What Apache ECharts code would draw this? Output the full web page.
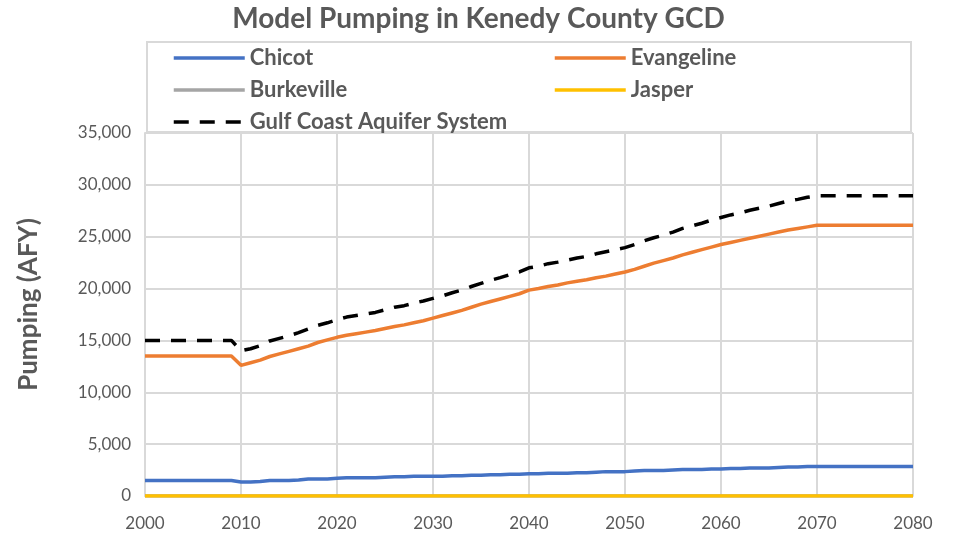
<!DOCTYPE html>
<html>
<head>
<meta charset="utf-8">
<script src="https://cdn.jsdelivr.net/npm/echarts@6/dist/echarts.min.js"></script>
<style>
  html, body { margin: 0; padding: 0; background: #fff; }
  #chart { width: 957px; height: 541px; }
</style>
</head>
<body>
<div id="chart"></div>
<script>
// years 2000 .. 2080
const years = [
  2000, 2001, 2002, 2003, 2004, 2005, 2006, 2007, 2008, 2009,
  2010, 2011, 2012, 2013, 2014, 2015, 2016, 2017, 2018, 2019,
  2020, 2021, 2022, 2023, 2024, 2025, 2026, 2027, 2028, 2029,
  2030, 2031, 2032, 2033, 2034, 2035, 2036, 2037, 2038, 2039,
  2040, 2041, 2042, 2043, 2044, 2045, 2046, 2047, 2048, 2049,
  2050, 2051, 2052, 2053, 2054, 2055, 2056, 2057, 2058, 2059,
  2060, 2061, 2062, 2063, 2064, 2065, 2066, 2067, 2068, 2069,
  2070, 2071, 2072, 2073, 2074, 2075, 2076, 2077, 2078, 2079,
  2080
];

const chicot = [
  1500, 1500, 1500, 1500, 1500, 1500, 1500, 1500, 1500, 1500,
  1350, 1350, 1400, 1500, 1500, 1500, 1550, 1650, 1650, 1650,
  1700, 1750, 1750, 1750, 1750, 1800, 1850, 1850, 1900, 1900,
  1900, 1900, 1950, 1950, 2000, 2000, 2050, 2050, 2100, 2100,
  2150, 2150, 2200, 2200, 2200, 2250, 2250, 2300, 2350, 2350,
  2350, 2400, 2450, 2450, 2450, 2500, 2550, 2550, 2550, 2600,
  2600, 2650, 2650, 2700, 2700, 2700, 2750, 2800, 2800, 2850,
  2850, 2850, 2850, 2850, 2850, 2850, 2850, 2850, 2850, 2850,
  2850
];

const evangeline = [
  13500, 13500, 13500, 13500, 13500, 13500, 13500, 13500, 13500, 13500,
  12600, 12850, 13100, 13450, 13700, 13950, 14200, 14450, 14800, 15050,
  15300, 15500, 15650, 15800, 15950, 16150, 16350, 16500, 16700, 16900,
  17150, 17400, 17650, 17900, 18200, 18500, 18750, 19000, 19250, 19500,
  19850, 20000, 20200, 20350, 20550, 20700, 20850, 21050, 21200, 21400,
  21600, 21850, 22150, 22450, 22700, 22950, 23250, 23500, 23750, 24000,
  24250, 24450, 24650, 24850, 25050, 25250, 25450, 25650, 25800, 25950,
  26100, 26100, 26100, 26100, 26100, 26100, 26100, 26100, 26100, 26100,
  26100
];

const burkeville = [
  0, 0, 0, 0, 0, 0, 0, 0, 0, 0, 0, 0, 0, 0, 0, 0, 0, 0, 0, 0,
  0, 0, 0, 0, 0, 0, 0, 0, 0, 0, 0, 0, 0, 0, 0, 0, 0, 0, 0, 0,
  0, 0, 0, 0, 0, 0, 0, 0, 0, 0, 0, 0, 0, 0, 0, 0, 0, 0, 0, 0,
  0, 0, 0, 0, 0, 0, 0, 0, 0, 0, 0, 0, 0, 0, 0, 0, 0, 0, 0, 0,
  0
];

const jasper = [
  0, 0, 0, 0, 0, 0, 0, 0, 0, 0, 0, 0, 0, 0, 0, 0, 0, 0, 0, 0,
  0, 0, 0, 0, 0, 0, 0, 0, 0, 0, 0, 0, 0, 0, 0, 0, 0, 0, 0, 0,
  0, 0, 0, 0, 0, 0, 0, 0, 0, 0, 0, 0, 0, 0, 0, 0, 0, 0, 0, 0,
  0, 0, 0, 0, 0, 0, 0, 0, 0, 0, 0, 0, 0, 0, 0, 0, 0, 0, 0, 0,
  0
];

const gulfCoast = [
  15000, 15000, 15000, 15000, 15000, 15000, 15000, 15000, 15000, 15000,
  14000, 14200, 14500, 14950, 15200, 15450, 15750, 16100, 16450, 16700,
  17000, 17250, 17400, 17550, 17700, 17950, 18200, 18350, 18600, 18800,
  19050, 19300, 19600, 19850, 20200, 20500, 20800, 21050, 21350, 21600,
  22000, 22150, 22400, 22550, 22750, 22950, 23100, 23350, 23550, 23750,
  23950, 24250, 24600, 24900, 25150, 25450, 25800, 26050, 26300, 26600,
  26850, 27100, 27300, 27550, 27750, 27950, 28200, 28450, 28600, 28800,
  28950, 28950, 28950, 28950, 28950, 28950, 28950, 28950, 28950, 28950,
  28950
];

const textGray = "#595959";
const gridGray = "#D9D9D9";
const fontName = "Lato, 'Open Sans', sans-serif";

const toPairs = (vals) => years.map((y, i) => [y, vals[i]]);

const makeLine = (name, vals, color, dashed) => ({
  name: name,
  type: "line",
  data: toPairs(vals),
  symbol: "none",
  smooth: false,
  lineStyle: {
    color: color,
    width: 3.5,
    type: dashed ? [15, 11] : "solid",
    cap: "butt"
  },
  itemStyle: { color: color }
});

const legendText = {
  color: textGray,
  fontFamily: fontName,
  fontWeight: "bold",
  fontSize: 22,
  lineHeight: 20
};

const legendBase = {
  top: 47,
  orient: "vertical",
  padding: 0,
  itemWidth: 71,
  itemHeight: 14,
  itemGap: 10,
  itemStyle: { opacity: 0 },
  lineStyle: { width: 3.5 },
  textStyle: legendText
};

const myChart = echarts.init(document.getElementById("chart"));
myChart.setOption({
  animation: false,
  backgroundColor: "#fff",
  title: {
    text: "Model Pumping in Kenedy County GCD",
    left: "center",
    top: 0,
    textStyle: {
      color: textGray,
      fontFamily: fontName,
      fontWeight: "bold",
      fontSize: 28
    }
  },
  grid: {
    left: 145,
    right: 44,
    top: 133,
    bottom: 45
  },
  graphic: [
    {
      type: "rect",
      z: 3,
      shape: { x: 147, y: 42, width: 764, height: 90 },
      style: { fill: "#fff", stroke: gridGray, lineWidth: 2 }
    }
  ],
  legend: [
    Object.assign({}, legendBase, {
      left: 172,
      data: ["Chicot", "Burkeville", "Gulf Coast Aquifer System"]
    }),
    Object.assign({}, legendBase, {
      left: 553,
      data: ["Evangeline", "Jasper"]
    })
  ],
  xAxis: {
    type: "value",
    min: 2000,
    max: 2080,
    interval: 10,
    axisLine: { show: true, lineStyle: { color: gridGray, width: 2 } },
    axisTick: { show: false },
    splitLine: { show: true, lineStyle: { color: gridGray, width: 2 } },
    axisLabel: {
      color: textGray,
      fontFamily: fontName,
      fontSize: 17,
      margin: 19,
      formatter: (v) => String(v)
    }
  },
  yAxis: {
    type: "value",
    min: 0,
    max: 35000,
    interval: 5000,
    name: "Pumping (AFY)",
    nameLocation: "middle",
    nameGap: 103,
    nameTextStyle: {
      color: textGray,
      fontFamily: fontName,
      fontWeight: "bold",
      fontSize: 26,
      padding: [0, 0, 0, 20]
    },
    axisLine: { show: true, lineStyle: { color: gridGray, width: 2 } },
    axisTick: { show: false },
    splitLine: { show: true, lineStyle: { color: gridGray, width: 2 } },
    axisLabel: {
      color: textGray,
      fontFamily: fontName,
      fontSize: 17,
      margin: 14,
      formatter: (v) => v.toLocaleString("en-US")
    }
  },
  series: [
    makeLine("Chicot", chicot, "#4472C4", false),
    makeLine("Evangeline", evangeline, "#ED7D31", false),
    makeLine("Burkeville", burkeville, "#A5A5A5", false),
    makeLine("Jasper", jasper, "#FFC000", false),
    makeLine("Gulf Coast Aquifer System", gulfCoast, "#000000", true)
  ]
});
</script>
</body>
</html>
